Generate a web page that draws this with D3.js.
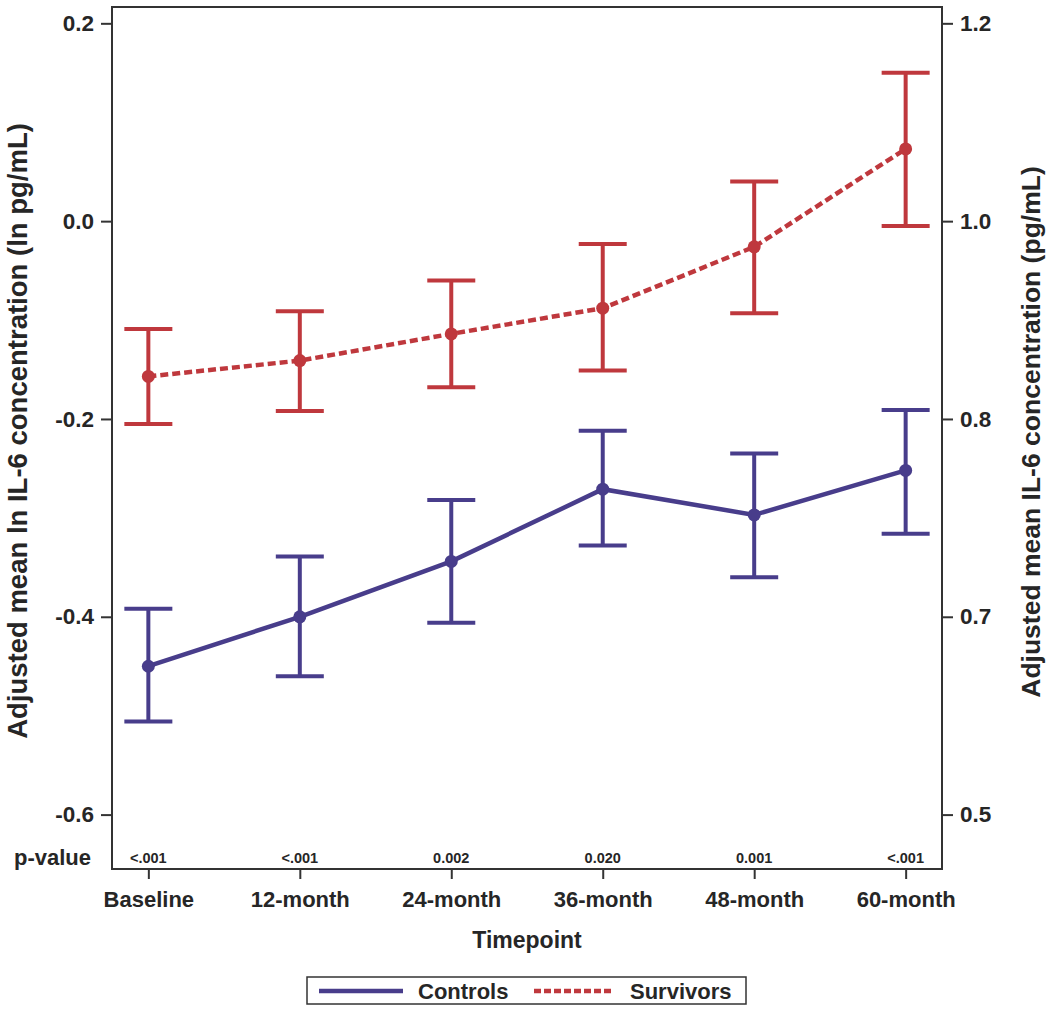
<!DOCTYPE html>
<html>
<head>
<meta charset="utf-8">
<script src="https://cdn.jsdelivr.net/npm/d3@7"></script>
<style>
  html, body { margin: 0; padding: 0; background: #fff; }
  svg { display: block; }
  text { font-family: "Liberation Sans", Arial, sans-serif; fill: #262626; }
</style>
</head>
<body>
<svg id="chart" width="1050" height="1011"></svg>
<script>
const timepoints = ["Baseline", "12-month", "24-month", "36-month", "48-month", "60-month"];
const pValues = ["<.001", "<.001", "0.002", "0.020", "0.001", "<.001"];

const controlsMean  = [-0.450, -0.400, -0.344, -0.271, -0.297, -0.252];
const controlsUpper = [-0.392, -0.339, -0.282, -0.212, -0.235, -0.191];
const controlsLower = [-0.506, -0.460, -0.406, -0.328, -0.360, -0.316];

const survivorsMean  = [-0.157, -0.141, -0.114, -0.088, -0.026, 0.073];
const survivorsUpper = [-0.109, -0.091, -0.060, -0.023, 0.040, 0.150];
const survivorsLower = [-0.205, -0.192, -0.168, -0.151, -0.093, -0.005];

const leftTicks = [0.2, 0.0, -0.2, -0.4, -0.6];
const leftTickLabels = ["0.2", "0.0", "-0.2", "-0.4", "-0.6"];
const rightTickLabels = ["1.2", "1.0", "0.8", "0.7", "0.5"];

const seriesNames = ["Controls", "Survivors"];
const colors = { Controls: "#483D8B", Survivors: "#BF383D" };

const svg = d3.select("#chart");
const L = 112, R = 942, T = 7, B = 869;

const x = d3.scalePoint().domain(timepoints).range([L, R]).padding(0.24);
const y = d3.scaleLinear().domain([-0.655, 0.2165]).range([B, T]);

const axisColor = "#333";
const FONT = "Liberation Sans, Arial, sans-serif";

// frame
svg.append("rect").attr("x", L).attr("y", T).attr("width", R - L).attr("height", B - T)
  .attr("fill", "none").attr("stroke", axisColor).attr("stroke-width", 2);

// left axis
const leftAxis = d3.axisLeft(y).tickValues(leftTicks)
  .tickFormat((d, i) => leftTickLabels[i]).tickSize(11).tickPadding(7);
const gl = svg.append("g").attr("transform", `translate(${L},0)`).call(leftAxis);
gl.select(".domain").remove();
gl.selectAll(".tick line").attr("stroke", axisColor).attr("stroke-width", 2);
gl.selectAll(".tick text").style("font-size", "22.5px").style("font-weight", "bold")
  .style("font-family", FONT).attr("fill", "#262626");

// right axis
const rightAxis = d3.axisRight(y).tickValues(leftTicks)
  .tickFormat((d, i) => rightTickLabels[i]).tickSize(11).tickPadding(7);
const gr = svg.append("g").attr("transform", `translate(${R},0)`).call(rightAxis);
gr.select(".domain").remove();
gr.selectAll(".tick line").attr("stroke", axisColor).attr("stroke-width", 2);
gr.selectAll(".tick text").style("font-size", "22.5px").style("font-weight", "bold")
  .style("font-family", FONT).attr("fill", "#262626");

// bottom axis
const bottomAxis = d3.axisBottom(x).tickSize(10).tickPadding(12);
const gb = svg.append("g").attr("transform", `translate(0,${B})`).call(bottomAxis);
gb.select(".domain").remove();
gb.selectAll(".tick line").attr("stroke", axisColor).attr("stroke-width", 2);
gb.selectAll(".tick text").style("font-size", "22px").style("font-weight", "bold")
  .style("font-family", FONT).attr("fill", "#262626");

// p-values
svg.append("text").attr("x", 91).attr("y", 865).attr("text-anchor", "end")
  .style("font-size", "22px").style("font-weight", "bold").text("p-value");
svg.selectAll(".pval").data(timepoints).enter().append("text")
  .attr("class", "pval").attr("x", d => x(d)).attr("y", 863).attr("text-anchor", "middle")
  .style("font-size", "14.5px").style("font-weight", "bold").text((d, i) => pValues[i]);

// axis titles
svg.append("text").attr("x", (L + R) / 2).attr("y", 948).attr("text-anchor", "middle")
  .style("font-size", "23px").style("font-weight", "bold").text("Timepoint");
svg.append("text").attr("transform", `translate(27,431) rotate(-90)`)
  .attr("text-anchor", "middle").style("font-size", "27.5px").style("font-weight", "bold")
  .text("Adjusted mean ln IL-6 concentration (ln pg/mL)");
svg.append("text").attr("transform", `translate(1040,432) rotate(-90)`)
  .attr("text-anchor", "middle").style("font-size", "26.5px").style("font-weight", "bold")
  .text("Adjusted mean IL-6 concentration (pg/mL)");

// series
const series = [
  { name: "Controls", mean: controlsMean, upper: controlsUpper, lower: controlsLower, dash: null },
  { name: "Survivors", mean: survivorsMean, upper: survivorsUpper, lower: survivorsLower, dash: "8,4" }
];

const capHalf = 24;
series.forEach(s => {
  const col = colors[s.name];
  const g = svg.append("g");
  const rows = timepoints.map((t, i) => ({ t, m: s.mean[i], u: s.upper[i], l: s.lower[i] }));
  g.selectAll(".ev").data(rows).enter().append("line")
    .attr("x1", d => x(d.t)).attr("x2", d => x(d.t))
    .attr("y1", d => y(d.u)).attr("y2", d => y(d.l))
    .attr("stroke", col).attr("stroke-width", 4);
  g.selectAll(".cu").data(rows).enter().append("line")
    .attr("x1", d => x(d.t) - capHalf).attr("x2", d => x(d.t) + capHalf)
    .attr("y1", d => y(d.u)).attr("y2", d => y(d.u))
    .attr("stroke", col).attr("stroke-width", 4);
  g.selectAll(".cl").data(rows).enter().append("line")
    .attr("x1", d => x(d.t) - capHalf).attr("x2", d => x(d.t) + capHalf)
    .attr("y1", d => y(d.l)).attr("y2", d => y(d.l))
    .attr("stroke", col).attr("stroke-width", 4);
  const line = d3.line().x(d => x(d.t)).y(d => y(d.m));
  g.append("path").datum(rows).attr("d", line).attr("fill", "none")
    .attr("stroke", col).attr("stroke-width", 4.5)
    .attr("stroke-dasharray", s.dash);
  g.selectAll(".pt").data(rows).enter().append("circle")
    .attr("cx", d => x(d.t)).attr("cy", d => y(d.m)).attr("r", 6.5).attr("fill", col);
});

// legend
const lg = svg.append("g");
lg.append("rect").attr("x", 307).attr("y", 977).attr("width", 439).attr("height", 27)
  .attr("fill", "#fff").attr("stroke", axisColor).attr("stroke-width", 1.5);
lg.append("line").attr("x1", 319).attr("x2", 403).attr("y1", 991).attr("y2", 991)
  .attr("stroke", colors.Controls).attr("stroke-width", 4.5);
lg.append("text").attr("x", 418).attr("y", 999).style("font-size", "22px").style("font-weight", "bold")
  .text(seriesNames[0]);
lg.append("line").attr("x1", 534).attr("x2", 613).attr("y1", 991).attr("y2", 991)
  .attr("stroke", colors.Survivors).attr("stroke-width", 4.5).attr("stroke-dasharray", "7,3");
lg.append("text").attr("x", 630).attr("y", 999).style("font-size", "22px").style("font-weight", "bold")
  .text(seriesNames[1]);
</script>
</body>
</html>
